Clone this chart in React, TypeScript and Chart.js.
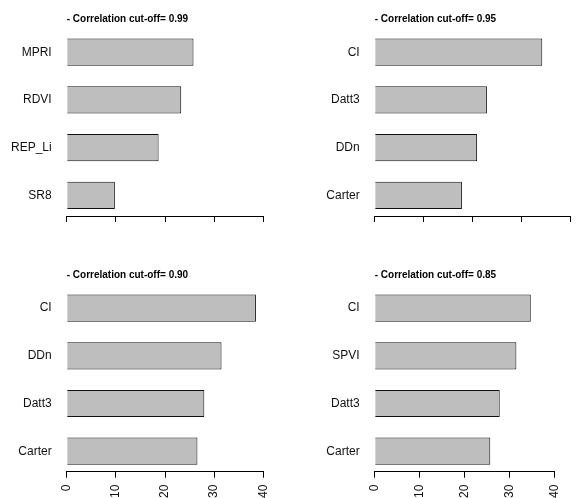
import React, { useEffect, useRef } from 'react';
import { Chart, registerables } from 'chart.js';
Chart.register(...registerables);

const FONT = "'Liberation Sans', Arial, Helvetica, sans-serif";
Chart.defaults.font.family = FONT;

const labels1 = ['MPRI', 'RDVI', 'REP_Li', 'SR8'];
const values1 = [25.8, 23.3, 18.7, 9.8];
const labels2 = ['CI', 'Datt3', 'DDn', 'Carter'];
const values2 = [34.2, 22.9, 20.9, 17.8];
const labels3 = ['CI', 'DDn', 'Datt3', 'Carter'];
const values3 = [38.5, 31.5, 28.0, 26.6];
const labels4 = ['CI', 'SPVI', 'Datt3', 'Carter'];
const values4 = [34.7, 31.5, 27.8, 25.7];
const titles = [
  '- Correlation cut-off= 0.99',
  '- Correlation cut-off= 0.95',
  '- Correlation cut-off= 0.90',
  '- Correlation cut-off= 0.85',
];
const xTicks = [0, 10, 20, 30, 40];

type PanelProps = {
  labels: string[];
  values: number[];
  title: string;
  left: number;
  top: number;
  yWidth: number;
  padRight: number;
  padTop: number;
  xHeight: number;
  showXLabels: boolean;
};

function Panel(p: PanelProps) {
  const ref = useRef<HTMLCanvasElement | null>(null);
  useEffect(() => {
    if (!ref.current) return;
    const chart = new Chart(ref.current, {
      type: 'bar',
      data: {
        datasets: [
          {
            data: p.values.map((v, i) => ({ x: v, y: i })) as any,
            backgroundColor: '#BEBEBE',
            borderColor: '#111',
            borderWidth: 1,
            barPercentage: 0.57,
            categoryPercentage: 1,
          },
        ],
      },
      options: {
        indexAxis: 'y',
        animation: false,
        responsive: false,
        events: [],
        layout: { padding: { top: p.padTop, right: p.padRight, left: 0, bottom: 0 } },
        plugins: {
          legend: { display: false },
          tooltip: { enabled: false },
          title: {
            display: true,
            text: p.title,
            align: 'start',
            fullSize: false,
            color: '#000',
            font: { family: FONT, size: 10, weight: 'bold', lineHeight: 1.2 },
            padding: { top: 0, bottom: 3 },
          },
        },
        scales: {
          x: {
            type: 'linear',
            min: 0,
            max: 40,
            offset: false,
            afterBuildTicks: (s: any) => {
              s.ticks = xTicks.map((v) => ({ value: v }));
            },
            afterFit: (s: any) => {
              s.height = p.xHeight;
            },
            grid: { drawOnChartArea: false, drawTicks: true, tickLength: 6, color: '#000', offset: false },
            border: { display: true, color: '#000' },
            ticks: {
              display: p.showXLabels,
              minRotation: 90,
              maxRotation: 90,
              autoSkip: false,
              padding: 7,
              color: '#111',
              font: { size: 12 },
            },
          },
          y: {
            type: 'linear',
            reverse: true,
            min: -0.5,
            max: 3.43,
            offset: false,
            afterBuildTicks: (s: any) => {
              s.ticks = p.labels.map((_, i) => ({ value: i }));
            },
            afterFit: (s: any) => {
              s.width = p.yWidth;
            },
            grid: { display: false, drawTicks: false, offset: false },
            border: { display: false },
            ticks: {
              autoSkip: false,
              padding: 15,
              color: '#111',
              font: { size: 12 },
              callback: (v: any) => p.labels[v as number] ?? '',
            },
          },
        },
      } as any,
    });
    return () => chart.destroy();
  }, []);
  return (
    <canvas
      ref={ref}
      width={288}
      height={249}
      style={{ position: 'absolute', left: p.left, top: p.top, width: 288, height: 249, display: 'block' }}
    />
  );
}

export default function App() {
  useEffect(() => {
    document.body.style.margin = '0';
    document.body.style.background = '#fff';
  }, []);
  return (
    <div style={{ position: 'relative', width: 576, height: 498, background: '#fff', overflow: 'hidden' }}>
      <Panel labels={labels1} values={values1} title={titles[0]} left={0} top={0} yWidth={66.7} padRight={24.7} padTop={13.35} xHeight={33} showXLabels={false} />
      <Panel labels={labels2} values={values2} title={titles[1]} left={288} top={0} yWidth={86.7} padRight={5.3} padTop={13.35} xHeight={33} showXLabels={false} />
      <Panel labels={labels3} values={values3} title={titles[2]} left={0} top={249} yWidth={66.7} padRight={24.7} padTop={20.3} xHeight={26.3} showXLabels={true} />
      <Panel labels={labels4} values={values4} title={titles[3]} left={288} top={249} yWidth={86.7} padRight={5.3} padTop={20.3} xHeight={26.3} showXLabels={true} />
    </div>
  );
}
